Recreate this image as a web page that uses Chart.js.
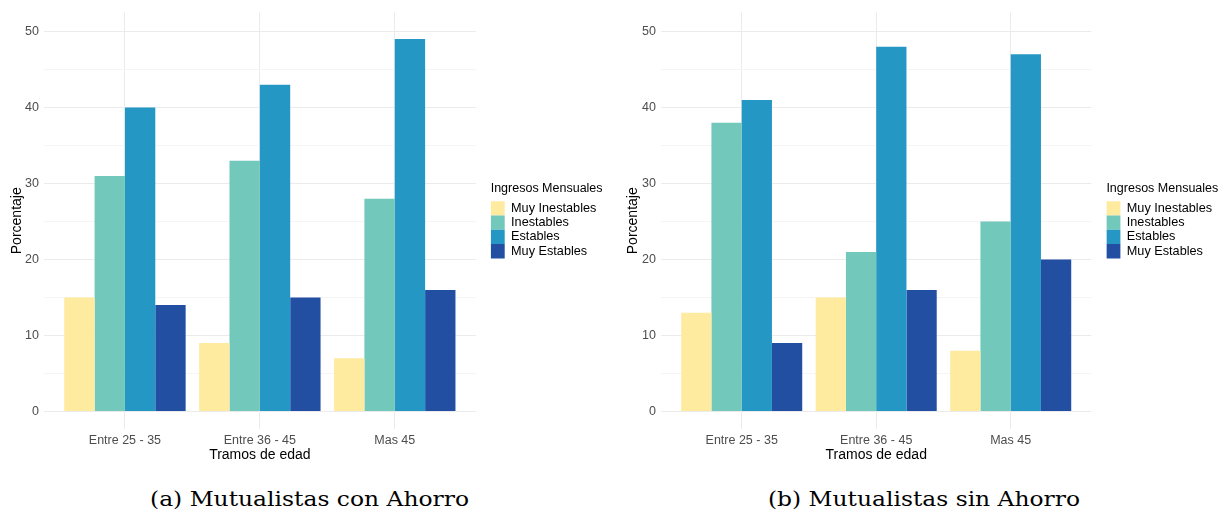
<!DOCTYPE html>
<html>
<head>
<meta charset="utf-8">
<script src="https://cdn.jsdelivr.net/npm/chart.js@4.4.1/dist/chart.umd.min.js"></script>
<style>
  html, body { margin: 0; padding: 0; background: #ffffff; }
  #page { position: relative; width: 1225px; height: 510px; overflow: hidden; background: #ffffff; }
  canvas { position: absolute; top: 0; }
  .caption {
    position: absolute; top: 489px; height: 20px; line-height: 20px;
    font-family: 'DejaVu Serif', serif; font-size: 20px; color: #000;
    white-space: nowrap; transform-origin: 0 50%;
  }
</style>
</head>
<body>
<div id="page">
  <canvas id="chartCon" width="612" height="470" style="left:0px"></canvas>
  <canvas id="chartSin" width="613" height="470" style="left:612px"></canvas>
  <div class="caption" id="capCon"></div>
  <div class="caption" id="capSin"></div>
</div>
<script>
// Age brackets on the x axis and the four income-stability groups
const categories = ['Entre 25 - 35', 'Entre 36 - 45', 'Mas 45'];
const seriesNames = ['Muy Inestables', 'Inestables', 'Estables', 'Muy Estables'];
const seriesColors = ['#FEEBA0', '#73C8BC', '#2497C4', '#234FA3'];

// Mutualistas con Ahorro (%)
const conMuyInestables = [15, 9, 7];
const conInestables    = [31, 33, 28];
const conEstables      = [40, 43, 49];
const conMuyEstables   = [14, 15, 16];

// Mutualistas sin Ahorro (%)
const sinMuyInestables = [13, 15, 8];
const sinInestables    = [38, 21, 25];
const sinEstables      = [41, 48, 47];
const sinMuyEstables   = [9, 16, 20];

// Value axis: labelled major ticks and unlabelled minor grid lines
const yMajorTicks = [0, 10, 20, 30, 40, 50];
const yMinorTicks = [5, 15, 25, 35, 45];

const xTitle = 'Tramos de edad';
const yTitle = 'Porcentaje';
const legendTitle = 'Ingresos Mensuales';
const captionCon = '(a) Mutualistas con Ahorro';
const captionSin = '(b) Mutualistas sin Ahorro';

const sans = "'Liberation Sans', Arial, Helvetica, sans-serif";

// Gives the legend box a fixed width so the plotting area keeps its size
const legendWidthPlugin = {
  id: 'legendWidth',
  beforeLayout(chart, args, opts) {
    const lg = chart.legend;
    if (lg && !lg.$fixedWidth) {
      const fit = lg.fit.bind(lg);
      lg.fit = function () { fit(); this.width = opts.width; };
      lg.$fixedWidth = true;
    }
  }
};

function makeChart(canvasId, series, box) {
  const datasets = series.map((vals, s) => ({
    label: seriesNames[s],
    data: vals.map((v, i) => ({ x: i + 1, y: v })),
    backgroundColor: seriesColors[s],
    borderWidth: 0,
    categoryPercentage: 0.9,
    barPercentage: 1.0
  }));
  const gridValues = [...yMajorTicks, ...yMinorTicks].sort((a, b) => a - b);

  return new Chart(document.getElementById(canvasId), {
    type: 'bar',
    data: { datasets },
    plugins: [legendWidthPlugin],
    options: {
      responsive: false,
      animation: false,
      events: [],
      layout: { padding: { left: box.padLeft, right: 0, top: 11, bottom: 0 } },
      plugins: {
        tooltip: { enabled: false },
        legendWidth: { width: box.legendWidth },
        legend: {
          position: 'right',
          align: 'start',
          title: {
            display: true,
            text: legendTitle,
            position: 'start',
            color: '#000',
            font: { family: sans, size: 12.5 },
            padding: { top: 171.5, bottom: 3.7 }
          },
          labels: {
            boxWidth: 14,
            boxHeight: 14.3,
            padding: 0,
            color: '#000',
            font: { family: sans, size: 12.7 }
          }
        }
      },
      scales: {
        x: {
          type: 'linear',
          min: 0.4,
          max: 3.6,
          offset: false,
          afterBuildTicks: s => { s.ticks = categories.map((c, i) => ({ value: i + 1 })); },
          afterFit: s => { s.height = 41; },
          grid: { color: '#EBEBEB', lineWidth: 1, drawTicks: false, offset: false },
          border: { display: false },
          ticks: {
            callback: v => categories[v - 1],
            color: '#4D4D4D',
            font: { family: sans, size: 12.5 },
            padding: 4.2,
            maxRotation: 0,
            autoSkip: false
          },
          title: {
            display: true,
            text: xTitle,
            color: '#000',
            font: { family: sans, size: 14 },
            padding: { top: 0, bottom: 6.6 }
          }
        },
        y: {
          type: 'linear',
          min: -2.3,
          max: 52.5,
          afterBuildTicks: s => { s.ticks = gridValues.map(v => ({ value: v })); },
          afterFit: s => { s.width = 44; },
          grid: {
            color: c => (c.tick && c.tick.value % 10 === 0) ? '#EBEBEB' : '#F5F5F5',
            lineWidth: 1,
            drawTicks: false
          },
          border: { display: false },
          ticks: {
            callback: v => (v % 10 === 0 ? String(v) : ''),
            color: '#4D4D4D',
            font: { family: sans, size: 12.5 },
            padding: 5
          },
          title: {
            display: true,
            text: yTitle,
            color: '#000',
            font: { family: sans, size: 14 },
            padding: { top: box.yTitlePad, bottom: 0 }
          }
        },
        // empty spacer between the plotting area and the legend
        gap: {
          type: 'linear',
          position: 'right',
          display: true,
          grid: { display: false },
          border: { display: false },
          ticks: { display: false },
          afterFit: s => { s.width = 15; }
        }
      }
    }
  });
}

makeChart('chartCon',
  [conMuyInestables, conInestables, conEstables, conMuyEstables],
  { padLeft: 0, legendWidth: 121.3, yTitlePad: 8.3 });

makeChart('chartSin',
  [sinMuyInestables, sinInestables, sinEstables, sinMuyEstables],
  { padLeft: 5, legendWidth: 118.6, yTitlePad: 7.4 });

// Sub-figure captions, stretched to their span under each panel
function placeCaption(id, text, left, width) {
  const el = document.getElementById(id);
  el.textContent = text;
  const natural = el.getBoundingClientRect().width;
  el.style.left = left + 'px';
  el.style.transform = 'scaleX(' + (width / natural) + ')';
}
placeCaption('capCon', captionCon, 150, 319);
placeCaption('capSin', captionSin, 768, 312);
</script>
</body>
</html>
